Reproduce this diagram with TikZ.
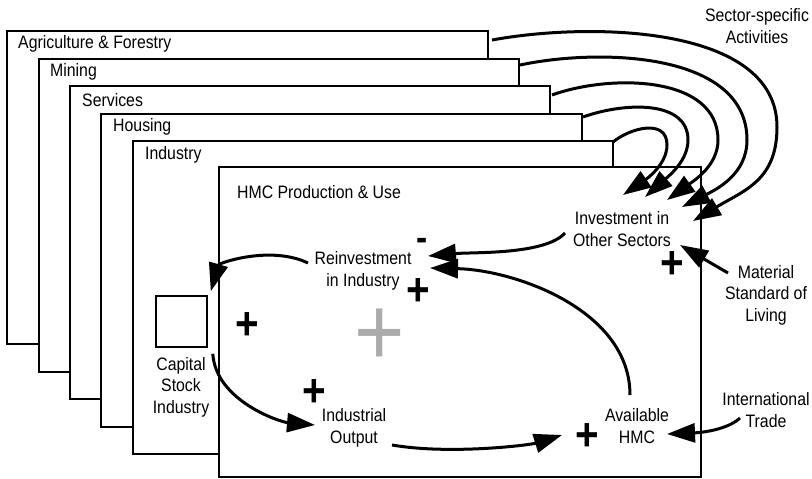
\documentclass[tikz,border=0pt]{standalone}
\usepackage{fontspec}
\setmainfont{Liberation Sans}[FakeStretch=0.88]
\usetikzlibrary{arrows.meta,calc}

\begin{document}
\begin{tikzpicture}[x=1pt,y=-1pt,
  sectorbox/.style={draw, fill=white, line width=1.2pt, inner sep=0pt, outer sep=0pt, anchor=north west},
  sectorlabel/.style={anchor=west, inner sep=0pt, font=\fontsize{18}{21}\selectfont},
  var/.style={align=center, inner sep=1pt, font=\fontsize{18}{21.5}\selectfont},
  link/.style={line width=3pt, -{Triangle[length=28pt,width=19pt]}},
  pol/.style={inner sep=0pt, font=\fontsize{46}{46}\selectfont\bfseries},
  neg/.style={inner sep=0pt, font=\fontsize{38}{38}\selectfont\bfseries},
  loopsign/.style={inner sep=0pt, font=\fontsize{98}{98}\selectfont, text=black!33},
]
\useasboundingbox (0,0) rectangle (812,479);

% stacked sector sheets, back to front
\node[sectorbox, minimum width=481pt, minimum height=313pt] (agri) at (7,31) {};
\node[sectorlabel] (agri-l) at (18,44) {Agriculture \& Forestry};
\node[sectorbox, minimum width=480pt, minimum height=313pt] (mining) at (39,59) {};
\node[sectorlabel] (mining-l) at (50,72) {Mining};
\node[sectorbox, minimum width=480pt, minimum height=313pt] (serv) at (70,86) {};
\node[sectorlabel] (serv-l) at (82,100) {Services};
\node[sectorbox, minimum width=481pt, minimum height=313pt] (hous) at (101,114) {};
\node[sectorlabel] (hous-l) at (113,127) {Housing};
\node[sectorbox, minimum width=480pt, minimum height=313pt] (ind) at (133,141) {};
\node[sectorlabel] (ind-l) at (145,155) {Industry};
\node[sectorbox, line width=1.7pt, minimum width=482pt, minimum height=310pt] (hmc) at (219,167) {};
\node[sectorlabel] (hmc-l) at (237,192) {HMC Production \& Use};

% variables
\node[var] (act) at (757,26) {Sector-specific\\Activities};
\node[var] (inv) at (622,229) {Investment in\\Other Sectors};
\node[var] (reinv) at (363,271) {Reinvestment\\in Industry};
\node[draw, line width=1.6pt, minimum size=51pt, inner sep=0pt] (cap) at (181.5,321.5) {};
\node[var] (capl) at (181,387) {Capital\\Stock\\Industry};
\node[var] (io) at (354,428) {Industrial\\Output};
\node[var] (avail) at (637,426) {Available\\HMC};
\node[var] (mat) at (766,295) {Material\\Standard of\\Living};
\node[var] (trade) at (766,410) {International\\Trade};

% polarity signs
\node[pol] (p1) at (247,326) {+};
\node[pol] (p2) at (418,292) {+};
\node[pol] (p3) at (672,265) {+};
\node[pol] (p4) at (314,393) {+};
\node[pol] (p5) at (587,437) {+};
\node[neg] (m1) at (422,244) {-};
\node[loopsign] (loop) at (380,337) {+};

% turning points of the sector arcs
\coordinate (agri-r) at (777,127);
\coordinate (mining-r) at (747,140);
\coordinate (serv-r) at (718,140);
\coordinate (hous-r) at (688,140);
\coordinate (ind-r) at (667,145);

% sector activities feeding investment in other sectors
\draw[link] ($(agri.north east)+(4,9)$) .. controls (590,22) and (777,25) .. (agri-r)
  .. controls (777,180) and (745,190) .. ($(inv)+(71,-8)$);
\draw[link] ($(mining.north east)+(1,6)$) .. controls (600,48) and (747,52) .. (mining-r)
  .. controls (747,175) and (715,190) .. ($(inv)+(60,-22)$);
\draw[link] ($(serv.north east)+(2,9)$) .. controls (610,74) and (718,75) .. (serv-r)
  .. controls (718,165) and (695,180) .. ($(inv)+(45,-29)$);
\draw[link] ($(hous.north east)+(1,3)$) .. controls (625,102) and (688,100) .. (hous-r)
  .. controls (688,160) and (670,175) .. ($(inv)+(23,-32)$);
\draw[link] ($(ind.north east)+(0,1)$) .. controls (630,128) and (667,118) .. (ind-r)
  .. controls (667,165) and (645,180) .. ($(inv)+(1,-34)$);

% causal links
\draw[link] ($(inv)+(-57,4)$) .. controls +(-20,22) and +(45,-4) .. ($(reinv)+(65,-15)$);
\draw[link] ($(avail)+(-7,-31)$) .. controls +(0,-85) and +(85,2) .. ($(reinv)+(67,-3)$);
\draw[link] ($(reinv)+(-55,-8)$) .. controls +(-38,-18) and +(8,-28) .. ($(cap.north east)+(3,-4)$);
\draw[link] ($(cap.south east)+(5,6)$) .. controls +(3,47) and +(-35,-3) .. ($(io)+(-39,-3)$);
\draw[link] ($(io)+(38,17)$) .. controls +(58,10) and +(-32,10) .. ($(avail)+(-75,9)$);
\draw[link] ($(trade)+(-26,8)$) .. controls +(-15,14) and +(25,-1) .. ($(avail)+(30,8)$);
\draw[link] ($(mat)+(-38,-22)$) -- ($(inv)+(58,16)$);
\end{tikzpicture}
\end{document}
